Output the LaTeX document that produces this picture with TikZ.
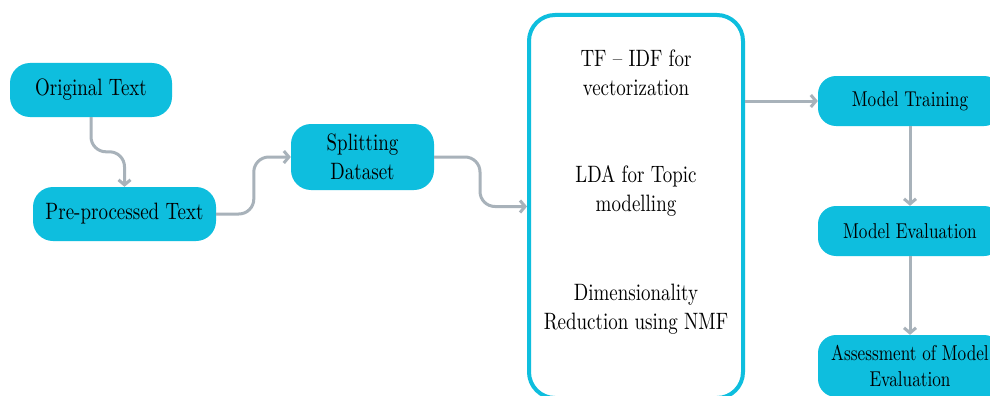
\documentclass[tikz,border=0pt]{standalone}
\usepackage{fontspec}
\setmainfont{lmroman10-regular}[Extension=.otf, FakeStretch=0.80]
\usetikzlibrary{arrows.meta,calc}
\definecolor{boxcyan}{RGB}{14,190,222}
\definecolor{conngray}{RGB}{168,178,186}
\begin{document}
\begin{tikzpicture}[x=1pt,y=-1pt,
  bignode/.style={fill=boxcyan, rounded corners=20pt, inner sep=0pt, align=center,
    font=\fontsize{23.7}{29}\selectfont},
  rightnode/.style={fill=boxcyan, rounded corners=18pt, inner sep=0pt, align=center,
    minimum width=184pt, font=\fontsize{21.5}{26}\selectfont},
  intext/.style={align=center, inner sep=0pt, font=\fontsize{23.7}{29}\selectfont},
  conn/.style={draw=conngray, line width=3pt, rounded corners=15pt,
    -{Straight Barb[length=5pt,width=12pt]}}]
\clip (0,0) rectangle (990,396);
\fill[white] (0,0) rectangle (990,396);
% left nodes
\node[bignode, minimum width=162pt, minimum height=54pt] (orig) at (91,90) {Original Text};
\node[bignode, minimum width=183pt, minimum height=54pt] (pre) at (124.5,214) {Pre-processed Text};
\node[bignode, minimum width=143pt, minimum height=66pt] (split) at (362.5,157) {Splitting\\Dataset};
% big process box
\node[draw=boxcyan, fill=white, line width=4pt, rounded corners=26pt,
      minimum width=214pt, minimum height=383pt, inner sep=0pt] (proc) at (636,206.5) {};
\node[intext] (t1) at (636,72.5) {TF – IDF for\\vectorization};
\node[intext] (t2) at (636,191) {LDA for Topic\\modelling};
\node[intext] (t3) at (636,309.5) {Dimensionality\\Reduction using NMF};
% right nodes
\node[rightnode, minimum height=50pt] (mt) at (910,101) {Model Training};
\node[rightnode, minimum height=50pt] (me) at (910,231) {Model Evaluation};
\node[rightnode, minimum height=62pt] (am) at (910,366) {Assessment of Model\\Evaluation};
% connectors
\draw[conn] (orig.south) |- ($(pre.north)+(0,-35)$) -- (pre.north);
\draw[conn] (pre.east) -| ($(split.west)+(-37,0)$) -- (split.west);
\draw[conn] (split.east) -| ($(proc.west)+(-47,0)$) -- (proc.west);
\draw[conn] (proc.east |- mt.west) -- (mt.west);
\draw[conn] (mt.south) -- (me.north);
\draw[conn] (me.south) -- (am.north);
\end{tikzpicture}
\end{document}
